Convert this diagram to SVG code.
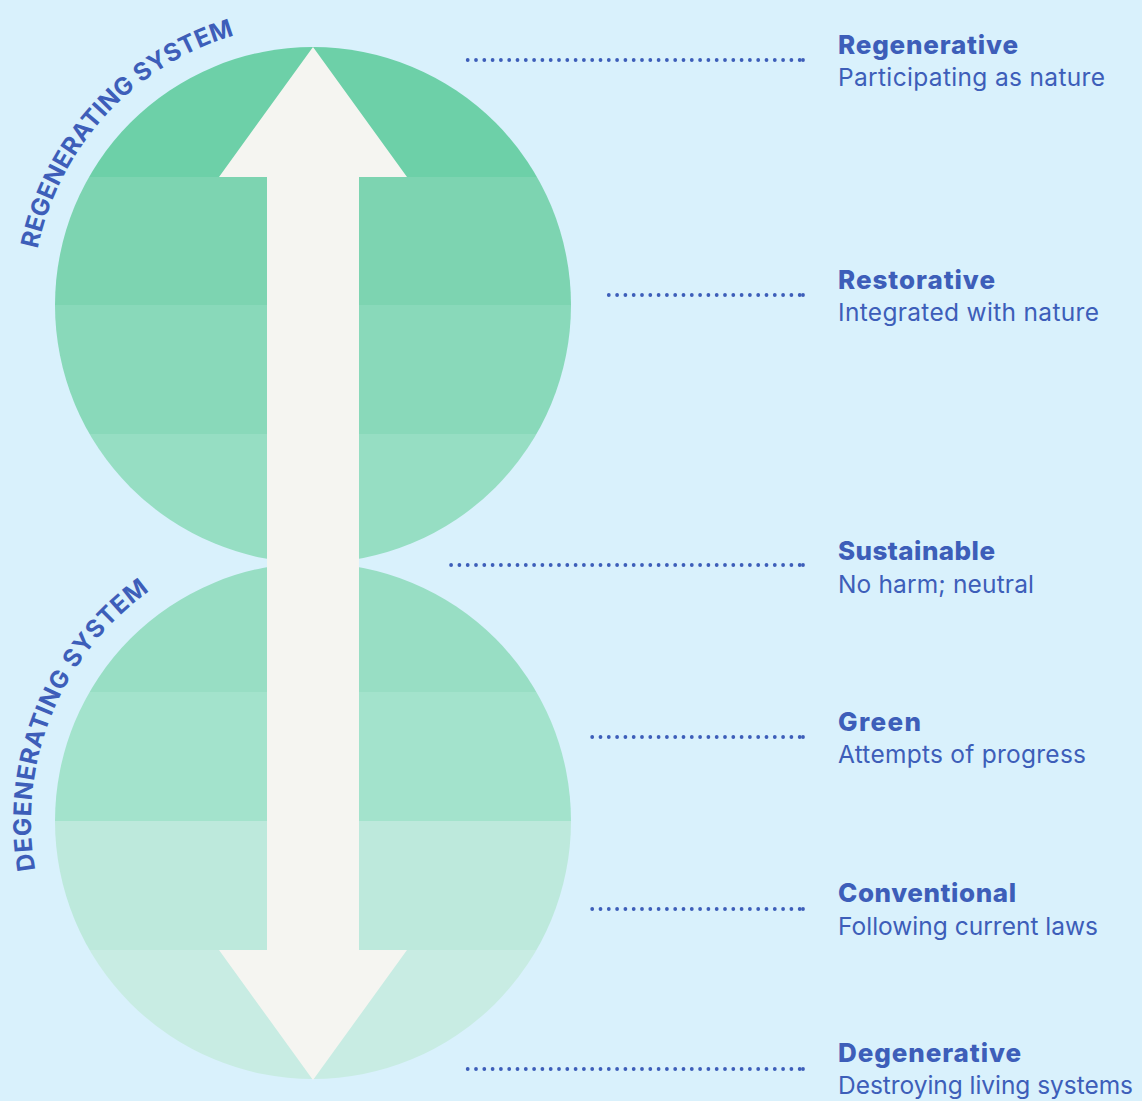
<svg xmlns="http://www.w3.org/2000/svg" width="1142" height="1101" viewBox="0 0 1142 1101">
<style>
.t{font-family:Inter,"DejaVu Sans",sans-serif;font-weight:800;font-size:26px;fill:#3d5eb9}
.s{font-family:Inter,"DejaVu Sans",sans-serif;font-weight:400;font-size:24.5px;fill:#3d5eb9}
.c{font-family:Inter,"DejaVu Sans",sans-serif;font-weight:700;font-size:24.5px;fill:#3d5eb9}
.d{stroke:#3d5eb9;stroke-width:3.8;stroke-linecap:round;stroke-dasharray:0 8.3;fill:none}
.e{fill:#3d5eb9}
</style>
<defs>
<clipPath id="ct"><circle cx="313" cy="305" r="258"/></clipPath>
<clipPath id="cb"><circle cx="313" cy="821" r="258"/></clipPath>
<path id="pt" d="M 37.7 249 A 282 282 0 0 1 245 32.4"/>
<path id="pb" d="M 35.3 870 A 282 282 0 0 1 172 576.8"/>
</defs>
<rect width="1142" height="1101" fill="#d9f1fc"/>
<g id="top-circle" clip-path="url(#ct)">
<rect x="55" y="40" width="520" height="137" fill="#6dd0a8"/>
<rect x="55" y="177" width="520" height="128" fill="#7dd4b1"/>
<rect x="55" y="305" width="520" height="129" fill="#89d9ba"/>
<rect x="55" y="434" width="520" height="135" fill="#96dec3"/>
</g>
<g id="bottom-circle" clip-path="url(#cb)">
<rect x="55" y="560" width="520" height="132" fill="#98dec4"/>
<rect x="55" y="692" width="520" height="129" fill="#a3e3cc"/>
<rect x="55" y="821" width="520" height="129" fill="#bde9dc"/>
<rect x="55" y="950" width="520" height="135" fill="#c8ece3"/>
</g>
<g id="arrow">
<polygon points="313,47 407,177 359,177 359,950 407,950 313,1080 219,950 267,950 267,177 219,177" fill="#f5f5f1"/>
</g>
<g id="system-labels">
<text class="c"><textPath href="#pt" textLength="305" lengthAdjust="spacing">REGENERATING SYSTEM</textPath></text>
<text class="c"><textPath href="#pb" textLength="318" lengthAdjust="spacing">DEGENERATING SYSTEM</textPath></text>
</g>
<g id="connectors">
<line class="d" x1="799.7" y1="60" x2="467" y2="60"/><circle class="e" cx="803" cy="60" r="1.9"/>
<line class="d" x1="799.7" y1="295" x2="603" y2="295"/><circle class="e" cx="803" cy="295" r="1.9"/>
<line class="d" x1="799.7" y1="565" x2="446" y2="565"/><circle class="e" cx="803" cy="565" r="1.9"/>
<line class="d" x1="799.7" y1="737" x2="587" y2="737"/><circle class="e" cx="803" cy="737" r="1.9"/>
<line class="d" x1="799.7" y1="909" x2="587" y2="909"/><circle class="e" cx="803" cy="909" r="1.9"/>
<line class="d" x1="799.7" y1="1069" x2="467" y2="1069"/><circle class="e" cx="803" cy="1069" r="1.9"/>
</g>
<g id="regenerative">
<text class="t" x="838" y="54" textLength="180" lengthAdjust="spacing">Regenerative</text>
<text class="s" x="838" y="86" textLength="267" lengthAdjust="spacing">Participating as nature</text>
</g>
<g id="restorative">
<text class="t" x="838" y="289" textLength="157" lengthAdjust="spacing">Restorative</text>
<text class="s" x="838" y="321" textLength="261" lengthAdjust="spacing">Integrated with nature</text>
</g>
<g id="sustainable">
<text class="t" x="838" y="560" textLength="157" lengthAdjust="spacing">Sustainable</text>
<text class="s" x="838" y="593" textLength="196" lengthAdjust="spacing">No harm; neutral</text>
</g>
<g id="green">
<text class="t" x="838" y="731" textLength="83" lengthAdjust="spacing">Green</text>
<text class="s" x="838" y="763" textLength="248" lengthAdjust="spacing">Attempts of progress</text>
</g>
<g id="conventional">
<text class="t" x="838" y="902" textLength="178" lengthAdjust="spacing">Conventional</text>
<text class="s" x="838" y="935" textLength="260" lengthAdjust="spacing">Following current laws</text>
</g>
<g id="degenerative">
<text class="t" x="838" y="1062" textLength="183" lengthAdjust="spacing">Degenerative</text>
<text class="s" x="838" y="1094" textLength="295" lengthAdjust="spacing">Destroying living systems</text>
</g>
</svg>
